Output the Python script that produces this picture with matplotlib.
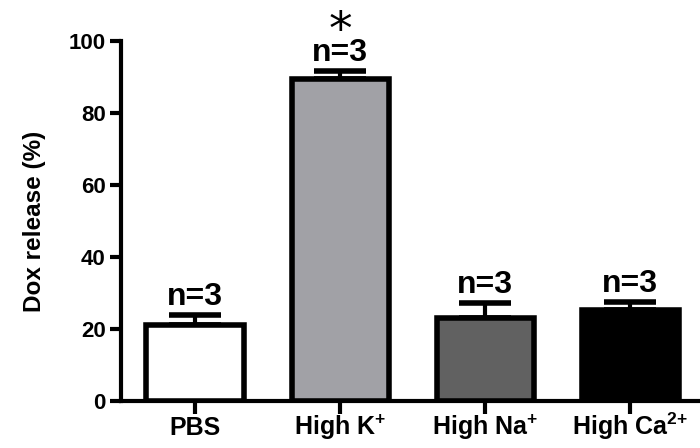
import numpy as np
import matplotlib
matplotlib.use("Agg")
import matplotlib.pyplot as plt

plt.rcParams['font.family'] = ['Liberation Sans', 'DejaVu Sans']
plt.rcParams['font.weight'] = 'bold'
plt.rcParams['mathtext.fontset'] = 'custom'
plt.rcParams['mathtext.rm'] = 'Liberation Sans:bold'
plt.rcParams['mathtext.bf'] = 'Liberation Sans:bold'

# data
groups = ['PBS', r'High K$^{\mathbf{+}}$', r'High Na$^{\mathbf{+}}$', r'High Ca$^{\mathbf{2{+}}}$']
release = [21.2, 89.5, 23.0, 25.2]
err = [2.8, 2.3, 4.3, 2.3]
counts = ['n=3', 'n=3', 'n=3', 'n=3']
colors = ['white', '#a1a1a6', '#616161', 'black']

fig = plt.figure(figsize=(7, 4.48), dpi=100)
ax = fig.add_axes([121/700, 47/448, 579/700, 360/448])

x = np.arange(len(groups))
ax.bar(x, release, width=0.67, color=colors, edgecolor='black', linewidth=4, zorder=3)
ax.errorbar(x, release, yerr=[np.zeros(len(err)), err], fmt='none', ecolor='black',
            elinewidth=3, capsize=19, capthick=4, zorder=2)

for xi, v, e, t in zip(x, release, err, counts):
    ax.annotate(t, xy=(xi, v + e), xytext=(0, 2), textcoords='offset points',
                ha='center', va='bottom', fontsize=23, fontweight='bold', annotation_clip=False)
# significance mark over High K+
ax.annotate('*', xy=(1, release[1] + err[1]), xytext=(0, 19), textcoords='offset points',
            ha='center', va='baseline', fontsize=34, fontweight='normal',
            family='DejaVu Sans', annotation_clip=False)

ax.set_xlim(-0.51, 3.48)
ax.set_ylim(0, 100)
ax.set_yticks([0, 20, 40, 60, 80, 100])
ax.set_xticks(x)
ax.set_xticklabels(groups, fontsize=18, fontweight='bold')
for lab in ax.get_xticklabels():
    lab.set_verticalalignment('baseline')   # keep all labels on one baseline
ax.tick_params(axis='y', labelsize=16, width=3, length=8, pad=3)
ax.tick_params(axis='x', width=3, length=9, pad=15.5)
for lab in ax.get_yticklabels():
    lab.set_fontweight('bold')
ax.set_ylabel('Dox release (%)', fontsize=17.5, fontweight='bold', labelpad=16)

ax.spines['top'].set_visible(False)
ax.spines['right'].set_visible(False)
ax.spines['left'].set_linewidth(3)
ax.spines['bottom'].set_linewidth(3)

plt.savefig('out.png', dpi=100)
